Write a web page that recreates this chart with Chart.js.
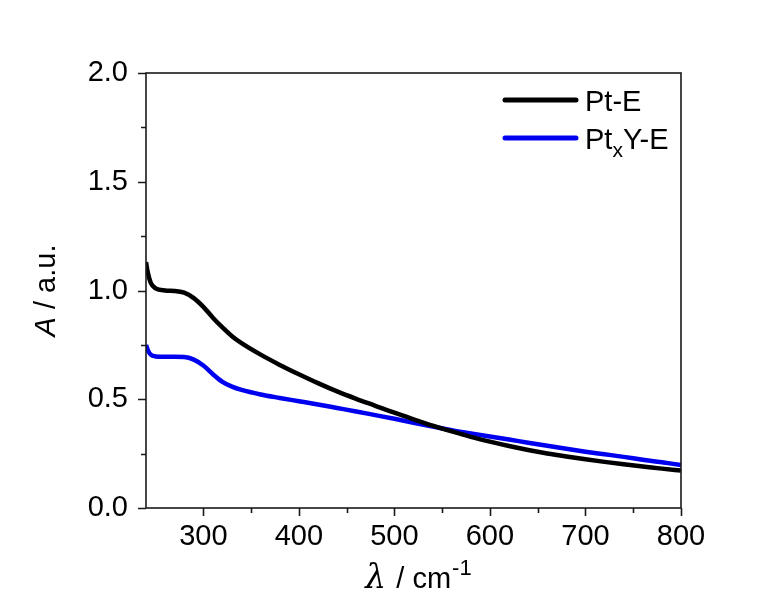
<!DOCTYPE html>
<html>
<head>
<meta charset="utf-8">
<script src="https://cdn.jsdelivr.net/npm/chart.js@4/dist/chart.umd.min.js"></script>
<style>
  html, body { margin: 0; padding: 0; background: #fff; }
</style>
</head>
<body>
<canvas id="spectrum" width="779" height="599"></canvas>
<script>
// wavelength grid, cm^-1
const WAVELENGTH = [240, 242, 245, 250, 260, 270, 280, 290, 300, 310, 320, 330, 340, 360, 380, 400, 420, 440,
  460, 480, 500, 520, 540, 560, 580, 600, 620, 640, 660, 680, 700, 720, 740, 760, 780, 800];

const ABS_PT_E = [1.13, 1.08, 1.035, 1.01, 1.0, 0.998, 0.99, 0.965, 0.925, 0.875, 0.83, 0.79, 0.758, 0.705, 0.658,
  0.615, 0.574, 0.536, 0.502, 0.47, 0.438, 0.408, 0.379, 0.352, 0.327, 0.305, 0.285, 0.267, 0.251, 0.237, 0.224,
  0.212, 0.201, 0.191, 0.181, 0.172];

const ABS_PTXY_E = [0.75, 0.725, 0.705, 0.697, 0.695, 0.695, 0.694, 0.682, 0.655, 0.615, 0.58, 0.558, 0.543, 0.522,
  0.506, 0.491, 0.476, 0.46, 0.444, 0.427, 0.41, 0.392, 0.375, 0.358, 0.343, 0.329, 0.315, 0.3, 0.286, 0.272, 0.259,
  0.247, 0.235, 0.222, 0.21, 0.198];

// "_x" marks a subscript in the legend text
const SERIES_NAMES = ['Pt-E', 'Pt_xY-E'];
const SERIES_COLORS = ['#000000', '#0000f0'];

const FONT = 'Arial, "Liberation Sans", sans-serif';
const SIZE = 29;

function toPoints(values) {
  return WAVELENGTH.map((x, i) => ({ x, y: values[i] }));
}

// draw a row of text pieces with different fonts / offsets
function drawRuns(ctx, runs, x, y, align) {
  const widths = runs.map(r => { ctx.font = r.font; return ctx.measureText(r.text).width + (r.gap || 0); });
  const total = widths.reduce((s, w) => s + w, 0);
  let cx = align === 'center' ? x - total / 2 : x;
  ctx.textAlign = 'left';
  ctx.textBaseline = 'alphabetic';
  runs.forEach((r, i) => {
    ctx.font = r.font;
    ctx.fillText(r.text, cx, y + (r.dy || 0));
    cx += widths[i];
  });
}

function nameRuns(name) {
  const m = name.match(/^(.*)_(.)(.*)$/);
  if (!m) return [{ text: name, font: `${SIZE}px ${FONT}` }];
  return [
    { text: m[1], font: `${SIZE}px ${FONT}` },
    { text: m[2], font: `21px ${FONT}`, dy: 8 },
    { text: m[3], font: `${SIZE}px ${FONT}` },
  ];
}

const axesDecor = {
  id: 'axesDecor',
  afterDraw(chart) {
    const { ctx, chartArea: a, scales: { x, y } } = chart;
    ctx.save();
    ctx.strokeStyle = '#1a1a1a';
    ctx.lineWidth = 1.6;
    ctx.strokeRect(a.left, a.top, a.right - a.left, a.bottom - a.top);

    ctx.beginPath();
    x.ticks.forEach(t => {
      if (t.value % 50 !== 0) return;
      const px = Math.round(x.getPixelForValue(t.value)) + 0.5;
      const len = t.value % 100 === 0 ? 8 : 5;
      ctx.moveTo(px, a.bottom);
      ctx.lineTo(px, a.bottom + len);
    });
    y.ticks.forEach(t => {
      const py = Math.round(y.getPixelForValue(t.value)) + 0.5;
      const major = Math.round(t.value * 100) % 50 === 0;
      ctx.moveTo(a.left, py);
      ctx.lineTo(a.left - (major ? 8 : 5), py);
    });
    ctx.stroke();

    ctx.fillStyle = '#000';
    // x title: λ / cm-1
    drawRuns(ctx, [
      { text: 'λ', font: `italic 33px "DejaVu Serif", "Liberation Serif", serif`, gap: 2 },
      { text: ' / cm', font: `${SIZE}px ${FONT}`, gap: 1 },
      { text: '-1', font: `22px ${FONT}`, dy: -13 },
    ], (a.left + a.right) / 2 + 5, 588, 'center');

    // y title: A / a.u.
    ctx.save();
    ctx.translate(55, (a.top + a.bottom) / 2);
    ctx.rotate(-Math.PI / 2);
    drawRuns(ctx, [
      { text: 'A', font: `italic ${SIZE}px ${FONT}` },
      { text: ' / a.u.', font: `${SIZE}px ${FONT}` },
    ], 0, 0, 'center');
    ctx.restore();

    // legend
    chart.data.datasets.forEach((ds, i) => {
      const ly = a.top + 27 + i * 38;
      ctx.strokeStyle = ds.borderColor;
      ctx.lineWidth = 5;
      ctx.lineCap = 'round';
      ctx.beginPath();
      ctx.moveTo(a.right - 176, ly);
      ctx.lineTo(a.right - 105, ly);
      ctx.stroke();
      drawRuns(ctx, nameRuns(ds.label), a.right - 96, ly + 11, 'left');
    });
    ctx.restore();
  },
};

new Chart(document.getElementById('spectrum'), {
  type: 'line',
  data: {
    datasets: [ABS_PT_E, ABS_PTXY_E].map((values, i) => ({
      label: SERIES_NAMES[i],
      data: toPoints(values),
      borderColor: SERIES_COLORS[i],
      borderWidth: 4.5,
      pointRadius: 0,
      cubicInterpolationMode: 'monotone',
      fill: false,
    })),
  },
  options: {
    responsive: false,
    animation: false,
    layout: { padding: { left: 0, top: 73, right: 98, bottom: 0 } },
    plugins: { legend: { display: false }, tooltip: { enabled: false } },
    scales: {
      x: {
        type: 'linear',
        min: 240,
        max: 800,
        grid: { display: false, drawTicks: false },
        border: { display: false },
        afterFit: scale => { scale.height = 91; },
        ticks: {
          stepSize: 50,
          autoSkip: false,
          maxRotation: 0,
          padding: 12,
          color: '#000',
          font: { family: FONT, size: SIZE },
          callback: v => (v % 100 === 0 ? String(v) : ''),
        },
      },
      y: {
        min: 0,
        max: 2,
        grid: { display: false, drawTicks: false },
        border: { display: false },
        afterFit: scale => { scale.width = 146; },
        ticks: {
          stepSize: 0.25,
          autoSkip: false,
          padding: 18,
          color: '#000',
          font: { family: FONT, size: SIZE },
          callback: v => (Math.round(v * 100) % 50 === 0 ? v.toFixed(1) : ''),
        },
      },
    },
  },
  plugins: [axesDecor],
});
</script>
</body>
</html>
